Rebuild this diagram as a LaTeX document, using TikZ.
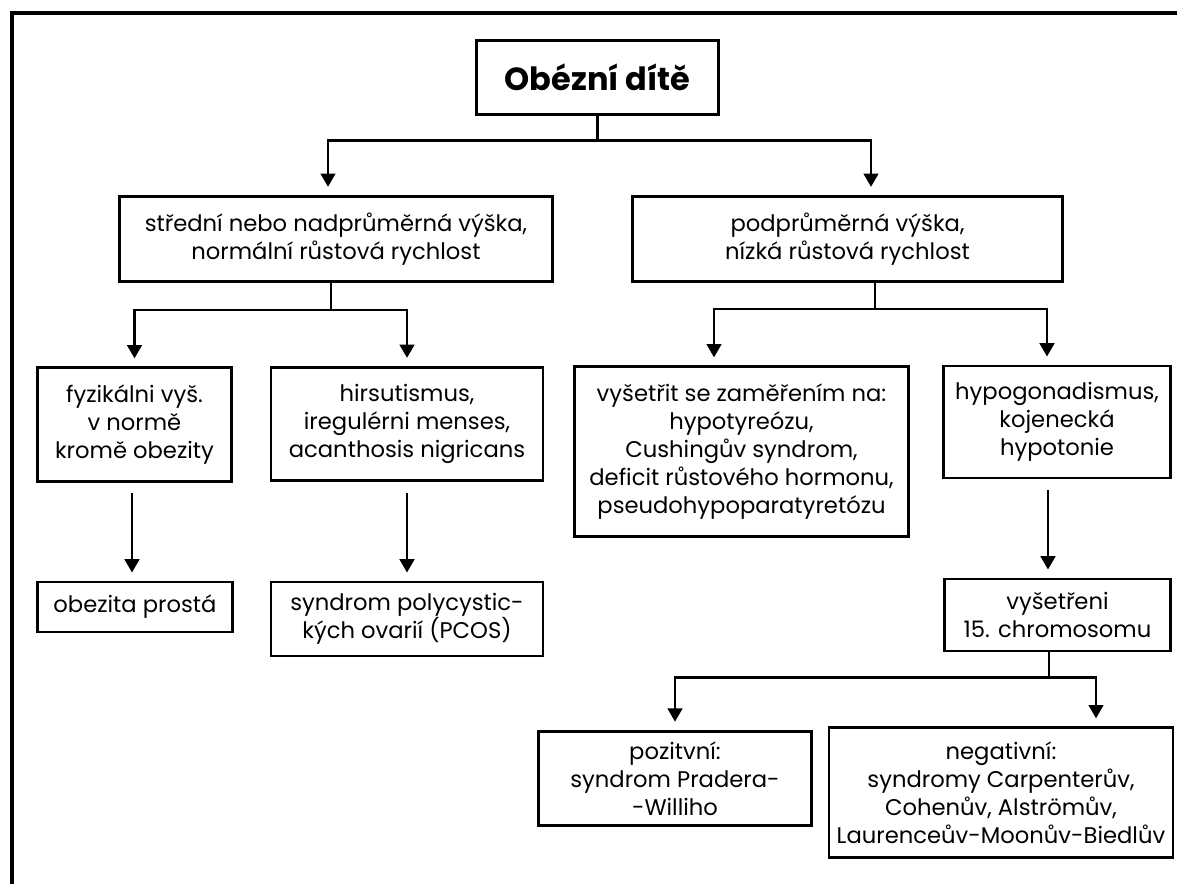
\documentclass[tikz,border=0pt]{standalone}
\usepackage{fontspec}
\setmainfont{Poppins}
\usetikzlibrary{arrows.meta,calc}
\begin{document}
\begin{tikzpicture}[x=0.75pt,y=-0.75pt]
        \tikzstyle{box}=[draw, line width=2.2pt, align=center, inner sep=0pt, font=\fontsize{17}{21}\selectfont]
        \tikzstyle{link}=[line width=1.9pt]
        \tikzstyle{arrow}=[link, -{Triangle[length=10pt,width=11pt]}, shorten >=6pt]

        \useasboundingbox (0,0) rectangle (1177,884);
        \draw[line width=3pt] (11.5,884) -- (11.5,13) -- (1177,13);

        \node[box, minimum width=182pt, minimum height=55pt, font=\fontsize{24}{28}\selectfont\bfseries] (root) at (597.5,77.5) {Obézní dítě};

        \node[box, minimum width=325pt, minimum height=64pt] (a) at (336,239) {střední nebo nadprůměrná výška,\\normální růstová rychlost};
        \node[box, minimum width=323pt, minimum height=64pt] (b) at (847.5,239) {podprůměrná výška,\\nízká růstová rychlost};

        \node[box, minimum width=146pt, minimum height=85pt] (a1) at (134.5,424.5) {fyzikálni vyš.\\v normě\\kromě obezity};
        \node[box, minimum width=204pt, minimum height=85pt] (a2) at (407,424) {hirsutismus,\\iregulérni menses,\\acanthosis nigricans};
        \node[box, minimum width=250pt, minimum height=127pt] (b1) at (741.5,451.5) {vyšetřit se zaměřením na:\\hypotyreózu,\\Cushingův syndrom,\\deficit růstového hormonu,\\pseudohypoparatyretózu};
        \node[box, minimum width=170pt, minimum height=84pt] (b2) at (1057,422) {hypogonadismus,\\kojenecká\\hypotonie};

        \node[box, minimum width=146pt, minimum height=37.5pt] (obez) at (135,607) {obezita prostá};
        \node[box, minimum width=204pt, minimum height=55.5pt] (pcos) at (407,619) {syndrom polycystic-\\kých ovarií (PCOS)};
        \node[box, minimum width=169pt, minimum height=54pt] (chrom) at (1057.5,615) {vyšetřeni\\15. chromosomu};

        \node[box, minimum width=205pt, minimum height=71pt] (pos) at (675,778.5) {pozitvní:\\syndrom Pradera-\\-Williho};
        \node[box, minimum width=258pt, minimum height=97pt] (neg) at (1001,792.5) {negativní:\\syndromy Carpenterův,\\Cohenův, Alströmův,\\Laurenceův-Moonův-Biedlův};

        \draw[link] (root.south) -- ++(0,25) coordinate (f0);
        \draw[arrow] (f0) -| ($(a.north)+(-8,0)$);
        \draw[arrow] (f0) -| ($(b.north)+(23.5,0)$);

        \draw[link] ($(a.south)+(-5,0)$) -- ++(0,27) coordinate (f1);
        \draw[arrow] (f1) -| (a1.north);
        \draw[arrow] (f1) -| (a2.north);

        \draw[link] ($(b.south)+(27.5,0)$) -- ++(0,26) coordinate (f2);
        \draw[arrow] (f2) -| ($(b1.north)+(-27.5,0)$);
        \draw[arrow] (f2) -| ($(b2.north)+(-10,0)$);

        \draw[arrow, shorten <=8pt] ($(a1.south)+(-2.5,0)$) -- ($(obez.north)+(-3,0)$);
        \draw[arrow, shorten <=8pt] (a2.south) -- (pcos.north);
        \draw[arrow, shorten <=8pt] ($(b2.south)+(-9,0)$) -- ($(chrom.north)+(-9.5,0)$);

        \draw[link] ($(chrom.south)+(-8.5,0)$) -- ++(0,25) coordinate (f3);
        \draw[arrow] (f3) -| (pos.north);
        \draw[arrow] (f3) -| ($(neg.north)+(95,0)$);
    \end{tikzpicture}
\end{document}
